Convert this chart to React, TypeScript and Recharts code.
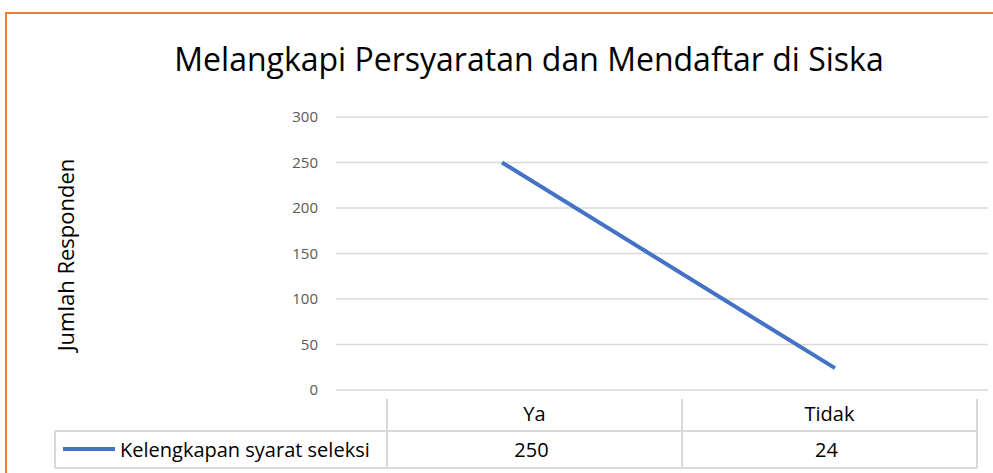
import { LineChart, Line, XAxis, YAxis, CartesianGrid } from "recharts";

const categories = ["Ya", "Tidak"];
const seriesName = "Kelengkapan syarat seleksi";
const seriesValues = [250, 24];
const yTicks = [0, 50, 100, 150, 200, 250, 300];

const FONT = "'Open Sans', 'Noto Sans', sans-serif";
const LINE_COLOR = "#4472C4";
const GRID = "#d9d9d9";

// table geometry (matches the plot band columns)
const TABLE_LEFT = 55;
const COL_START = 387;
const COL_W = 295;
const HEAD_TOP = 399;
const ROW_SPLIT = 431;
const TABLE_BOTTOM = 468;

export default function App() {
  const data = categories.map((c, i) => ({ name: c, value: seriesValues[i] }));
  const tableRight = COL_START + COL_W * categories.length;

  return (
    <div style={{ position: "absolute", left: 0, top: 0, width: 993, height: 473, overflow: "hidden", background: "#fff", fontFamily: FONT }}>
      {/* orange frame */}
      <div style={{ position: "absolute", left: 5, top: 12, width: 1000, height: 500, border: "2px solid #ED7D31", boxSizing: "border-box" }} />

      <div style={{ position: "absolute", left: 0, top: 37, width: 1058, textAlign: "center", fontSize: 32, color: "#000", lineHeight: "44px", whiteSpace: "nowrap" }}>
        Melangkapi Persyaratan dan Mendaftar di Siska
      </div>

      <div style={{ position: "absolute", left: 65, top: 255, transform: "translate(-50%, -50%) rotate(-90deg)", fontSize: 22, whiteSpace: "nowrap", color: "#000" }}>
        Jumlah Responden
      </div>

      <div style={{ position: "absolute", left: 0, top: 0 }}>
        <LineChart width={993} height={473} data={data} margin={{ top: 117, left: 276, right: 5, bottom: 83 }}>
          <CartesianGrid vertical={false} stroke={GRID} strokeWidth={1.5} />
          <XAxis dataKey="name" hide padding={{ left: 166, right: 153 }} />
          <YAxis
            width={60}
            domain={[0, 300]}
            ticks={yTicks}
            axisLine={false}
            tickLine={false}
            tickMargin={12}
            tick={{ fill: "#595959", fontSize: 15, fontFamily: FONT }}
          />
          <Line
            type="linear"
            dataKey="value"
            name={seriesName}
            stroke={LINE_COLOR}
            strokeWidth={4}
            dot={false}
            activeDot={false}
            isAnimationActive={false}
          />
        </LineChart>
      </div>

      {/* data table */}
      <svg width={993} height={473} style={{ position: "absolute", left: 0, top: 0 }}>
        <g stroke={GRID} strokeWidth={2}>
          <line x1={TABLE_LEFT} x2={tableRight} y1={ROW_SPLIT} y2={ROW_SPLIT} />
          <line x1={TABLE_LEFT} x2={tableRight} y1={TABLE_BOTTOM} y2={TABLE_BOTTOM} />
          <line x1={TABLE_LEFT} x2={TABLE_LEFT} y1={ROW_SPLIT} y2={TABLE_BOTTOM} />
          {categories.concat([""]).map((_, i) => (
            <line key={i} x1={COL_START + i * COL_W} x2={COL_START + i * COL_W} y1={HEAD_TOP} y2={TABLE_BOTTOM} />
          ))}
        </g>
        {categories.map((c, i) => (
          <text key={c} x={COL_START + COL_W * (i + 0.5)} y={421} textAnchor="middle" fontSize={20} fontFamily={FONT} fill="#000">
            {c}
          </text>
        ))}
        {seriesValues.map((v, i) => (
          <text key={i} x={COL_START + COL_W * (i + 0.5) - 3} y={457} textAnchor="middle" fontSize={20} fontFamily={FONT} fill="#000">
            {v}
          </text>
        ))}
        <line x1={63} x2={115} y1={449} y2={449} stroke={LINE_COLOR} strokeWidth={4} />
        <text x={120} y={457} fontSize={20} fontFamily={FONT} fill="#000">
          {seriesName}
        </text>
      </svg>
    </div>
  );
}
